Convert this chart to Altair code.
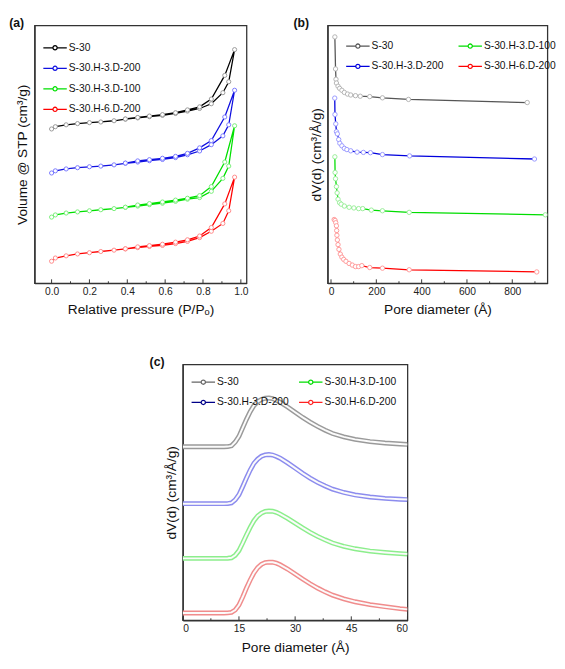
import altair as alt
import pandas as pd

FONT = "Liberation Sans"
SERIES = ["S-30", "S-30.H-3.D-200", "S-30.H-3.D-100", "S-30.H-6.D-200"]

# ---------------- (a) N2 sorption isotherms ----------------
a_ads_p = [0.0, 0.02, 0.077, 0.137, 0.2, 0.26, 0.33, 0.39, 0.455, 0.517, 0.586,
           0.655, 0.718, 0.782, 0.844, 0.905, 0.936, 0.967]
a_des_p = [0.915, 0.844, 0.782, 0.718, 0.655, 0.586, 0.517, 0.455, 0.39]

a_ads_s30 = [163.3, 165.7, 167.7, 169, 170, 170.7, 172, 173.7, 175, 176.3, 177.7,
             179.7, 182.3, 185, 190, 201.7, 213.3, 247.3]
a_des_s30 = [220, 195, 186.7, 183.5, 180.5, 178.5, 177, 175.5, 173.9]
a_ads_h3d200 = [116.7, 119, 121, 122.3, 123.3, 124, 125.3, 127, 128.3, 129.7, 131,
                133, 136, 140, 146.7, 156, 167.7, 204.3]
a_des_h3d200 = [176, 151, 143.3, 137.5, 134.3, 132.3, 130.8, 129.5, 127.2]
a_ads_h3d100 = [70, 72.3, 74.3, 75.5, 76.7, 77.8, 79, 80.3, 81.7, 83.2, 84.7,
                86.7, 89, 90.7, 97.3, 111, 124, 166.7]
a_des_h3d100 = [128.3, 102.3, 92.7, 90, 88, 86, 84.3, 82.8, 80.5]
a_ads_h6d200 = [23.3, 26.7, 29, 31, 32.3, 33.6, 35, 36.3, 37.7, 38.9, 40,
                42, 44.3, 48.3, 55, 63.3, 76.7, 112.3]
a_des_h6d200 = [84, 59, 50, 46, 43.5, 41.3, 39.8, 38.5, 36.5]

a_major = [0.0, 0.2, 0.4, 0.6, 0.8, 1.0]
a_minor = [0.1, 0.3, 0.5, 0.7, 0.9]

# ---------------- (b) BJH pore size distribution ----------------
b_x_s30 = [17, 20, 22, 24, 31, 38, 48, 59, 73, 87, 108, 129, 171, 227, 342, 866]
b_v_s30 = [261.7, 227.7, 216.7, 212.7, 209.3, 207, 205, 202.7, 201, 200, 199.3,
           198.7, 198.3, 197, 195.3, 192]
b_x_h3d200 = [16.5, 17.5, 21, 24, 28, 34, 39, 48, 59, 70, 87, 115, 143, 174, 227, 347, 898]
b_v_h3d200 = [196.7, 179.3, 169.3, 161, 158.7, 152.7, 148.7, 146, 143.3, 142, 140.7,
              139.3, 139, 138.7, 136.7, 135.3, 132]
b_x_h3d100 = [17, 18, 20, 24, 27, 31, 38, 45, 59, 80, 101, 122, 140, 178, 227, 345, 946]
b_v_h3d100 = [134.3, 117.7, 111, 102.7, 96, 89.3, 85.5, 84, 82, 80.7, 80, 79.3,
              79.3, 77.7, 77, 75.3, 72.7]
b_x_h6d200 = [14, 18, 21, 24, 25, 26, 28, 31, 35, 41, 48, 56, 66, 80, 94, 108, 122,
              136, 171, 227, 345, 908]
b_v_h6d200 = [67.7, 66.7, 64.3, 61, 56, 51, 46, 41, 36, 31, 27.7, 25.3, 23.3, 21,
              19.3, 17.7, 17.7, 18.7, 16.7, 16, 14.3, 12]

b_major = [0, 200, 400, 600, 800]
b_minor = [100, 300, 500, 700, 900]

# ---------------- (c) micropore distribution ----------------
c_x = [0, 4, 8, 11, 12, 13, 14, 15, 16, 17, 18, 19, 20, 21, 22, 23, 24, 25, 26,
       28, 30, 32, 34, 36, 38, 40, 43, 46, 50, 54, 58, 60]
c_v_s30 = [183, 183, 183, 183, 183.2, 184, 188, 194, 203, 212, 220, 226.5, 230.5,
           233, 234.2, 234.5, 233.8, 232, 230, 225, 219.5, 214, 209, 204.5, 200.5,
           197, 193.5, 190.8, 188.5, 187, 186, 185.5]
c_v_h3d200 = [123, 123, 123, 123, 123.1, 123.8, 127, 132.5, 141, 150, 158.5, 165.5,
              170, 173, 174.4, 174.8, 174.3, 172.8, 171, 166, 160.5, 155, 150,
              145.5, 141.7, 138.3, 134.8, 132.2, 130, 128.6, 127.7, 127.3]
c_v_h3d100 = [65.3, 65.3, 65.3, 65.3, 65.4, 65.9, 68.5, 73.5, 81.5, 90, 98, 105,
              110, 113, 114.8, 115.3, 115, 113.8, 112, 107.5, 102.5, 97.5, 92.8,
              88.5, 84.8, 81.5, 78, 75.4, 73, 71.5, 70.3, 69.8]
c_v_h6d200 = [7.7, 7.7, 7.7, 7.7, 7.8, 8.3, 10.8, 16, 24.5, 34, 42.5, 50, 55.5, 59,
              60.8, 61.3, 61.2, 60.2, 58.5, 54, 48.8, 43.5, 38.5, 34, 30, 26.5,
              22.5, 19.5, 16.5, 14.3, 12.3, 11.5]

c_major = [0, 15, 30, 45, 60]
c_minor = [7.5, 22.5, 37.5, 52.5]

# ---------------- colours ----------------
a_line_col = ["#000000", "#1010e0", "#00e000", "#ff0000"]
a_pt_col = ["#9a9a9a", "#7a7aff", "#7aee7a", "#ff8a8a"]
b_line_col = ["#555555", "#0000dd", "#00dd00", "#ff0000"]
b_pt_col = ["#b4b4b4", "#9a9aff", "#9aee9a", "#ff9a9a"]
c_band_col = ["#9a9a9a", "#8c8cee", "#8cee8c", "#f08c8c"]
c_leg_col = ["#666666", "#000088", "#00dd00", "#ff2222"]

FRAME_COL = "#333333"

# ---------------- tables ----------------
rows_a = []
for s, ads, des in zip(SERIES,
                       [a_ads_s30, a_ads_h3d200, a_ads_h3d100, a_ads_h6d200],
                       [a_des_s30, a_des_h3d200, a_des_h3d100, a_des_h6d200]):
    i = 0
    for p, v in zip(a_ads_p, ads):
        rows_a.append({"series": s, "p": p, "v": v, "i": i}); i += 1
    for p, v in zip(a_des_p, des):
        rows_a.append({"series": s, "p": p, "v": v, "i": i}); i += 1
df_a = pd.DataFrame(rows_a)

rows_b = []
for s, xs, vs in zip(SERIES, [b_x_s30, b_x_h3d200, b_x_h3d100, b_x_h6d200],
                     [b_v_s30, b_v_h3d200, b_v_h3d100, b_v_h6d200]):
    for i, (x, v) in enumerate(zip(xs, vs)):
        rows_b.append({"series": s, "d": x, "v": v, "i": i})
df_b = pd.DataFrame(rows_b)

rows_c = []
for s, vs in zip(SERIES, [c_v_s30, c_v_h3d200, c_v_h3d100, c_v_h6d200]):
    for x, v in zip(c_x, vs):
        rows_c.append({"series": s, "d": x, "v": v})
df_c = pd.DataFrame(rows_c)

SYM = ("M-1,0L-0.18,0M0.18,0L1,0M0.18,0A0.18,0.18,0,1,1,-0.18,0"
       "A0.18,0.18,0,1,1,0.18,0")

AX_STYLE = dict(grid=True, gridOpacity=0, labelFont=FONT, labelFontSize=10.5,
                labelColor="#222222", titleFont=FONT, titleFontSize=14,
                titleFontWeight="normal", titleColor="#111111", domain=True,
                domainColor=FRAME_COL, domainWidth=1.3)


def legend(x, y, cols, colpad):
    return alt.Legend(title=None, orient="none", legendX=x, legendY=y,
                      direction="vertical", columns=cols, columnPadding=colpad,
                      rowPadding=2, padding=0, symbolType=SYM, symbolSize=576,
                      symbolStrokeWidth=1.3, symbolOpacity=1, labelFont=FONT,
                      labelFontSize=10.5, labelColor="#111", labelOffset=1,
                      labelLimit=300)


def make_x(domain, values, fmt, title, tpad):
    def f(field):
        return alt.X(f"{field}:Q",
                     scale=alt.Scale(domain=domain, nice=False, zero=False),
                     axis=alt.Axis(values=values, format=fmt, title=title,
                                   tickOpacity=0, tickSize=3, labelPadding=1,
                                   titlePadding=tpad, **AX_STYLE))
    return f


def make_y(domain, title, tpad):
    def f(field):
        return alt.Y(f"{field}:Q",
                     scale=alt.Scale(domain=domain, nice=False, zero=False),
                     axis=alt.Axis(labels=False, ticks=False, title=title,
                                   titlePadding=tpad, **AX_STYLE))
    return f


def ticks(vals, H, L, xf):
    return alt.Chart(pd.DataFrame({"t": vals})).mark_rule(
        color=FRAME_COL, strokeWidth=1).encode(
        x=xf("t"), y=alt.value(H), y2=alt.value(H - L))


def ptitle(txt, dx):
    return alt.TitleParams(txt, anchor="start", frame="group", dx=dx, offset=-4,
                           fontSize=12.5, fontWeight="bold", font=FONT, color="#111")


VIEW = alt.ViewBackground(stroke=FRAME_COL, strokeWidth=1.3)

# ---------------- panel (a) ----------------
WA, HA = 217, 264
xa = make_x([-0.09, 1.03], a_major, ".1f", "Relative pressure (P/P\u2092)", 6)
ya = make_y([0, 273], "Volume @ STP (cm\u00b3/g)", 5)
a_line = alt.Chart(df_a).mark_line(strokeWidth=1.3, clip=True).encode(
    x=xa("p"), y=ya("v"),
    color=alt.Color("series:N", scale=alt.Scale(domain=SERIES, range=a_line_col),
                    legend=legend(8, 10, 1, 0)),
    order="i:Q")
a_pts = alt.Chart(df_a).mark_point(shape="circle", size=18, strokeWidth=1,
                                   fill="white", fillOpacity=1, clip=True).encode(
    x=xa("p"), y=ya("v"),
    stroke=alt.Stroke("series:N", scale=alt.Scale(domain=SERIES, range=a_pt_col),
                      legend=None))
panel_a = alt.layer(a_line, a_pts, ticks(a_major, HA, 4, xa), ticks(a_minor, HA, 2, xa)
                    ).properties(width=WA, height=HA, title=ptitle("(a)", -26), view=VIEW)

# ---------------- panel (b) ----------------
WB, HB = 225, 264
xb = make_x([-15, 955], b_major, "d", "Pore diameter (\u00c5)", 6)
yb = make_y([0, 274], "dV(d) (cm\u00b3/\u00c5/g)", 4)
b_line = alt.Chart(df_b).mark_line(strokeWidth=1.3, clip=True).encode(
    x=xb("d"), y=yb("v"),
    color=alt.Color("series:N", scale=alt.Scale(domain=SERIES, range=b_line_col),
                    legend=legend(18, 8, 2, 12)),
    order="i:Q")
b_pts = alt.Chart(df_b).mark_point(shape="circle", size=20, strokeWidth=1,
                                   fill="white", fillOpacity=1, clip=True).encode(
    x=xb("d"), y=yb("v"),
    stroke=alt.Stroke("series:N", scale=alt.Scale(domain=SERIES, range=b_pt_col),
                      legend=None))
panel_b = alt.layer(b_line, b_pts, ticks(b_major, HB, 4, xb), ticks(b_minor, HB, 2, xb)
                    ).properties(width=WB, height=HB, title=ptitle("(b)", -35), view=VIEW)

# ---------------- panel (c) ----------------
WC, HC = 230, 262
xc = make_x([0, 60], c_major, "d", "Pore diameter (\u00c5)", 6)
yc = make_y([0, 270], "dV(d) (cm\u00b3/\u00c5/g)", 4)
c_leg = alt.Chart(df_c).mark_line(strokeWidth=1, clip=True).encode(
    x=xc("d"), y=yc("v"),
    color=alt.Color("series:N", scale=alt.Scale(domain=SERIES, range=c_leg_col),
                    legend=legend(8, 5, 2, 7)))
c_band = alt.Chart(df_c).mark_line(strokeWidth=5, clip=True).encode(
    x=xc("d"), y=yc("v"),
    stroke=alt.Stroke("series:N", scale=alt.Scale(domain=SERIES, range=c_band_col),
                      legend=None))
c_inner = alt.Chart(df_c).mark_line(strokeWidth=2, color="#fbfbfb", clip=True).encode(
    x=xc("d"), y=yc("v"), detail="series:N")
panel_c = alt.layer(c_leg, c_band, c_inner, ticks(c_major, HC, 4, xc),
                    ticks(c_minor, HC, 2, xc)
                    ).properties(width=WC, height=HC, title=ptitle("(c)", -34), view=VIEW)

top = alt.hconcat(panel_a, panel_b, spacing=44).resolve_scale(
    color="independent", stroke="independent").resolve_legend(
    color="independent", stroke="independent")
chart = alt.vconcat(top, panel_c, spacing=37, center=True).resolve_scale(
    color="independent", stroke="independent").resolve_legend(
    color="independent", stroke="independent").properties(padding=0)
chart = chart.configure(font=FONT)

chart.save("out.html", embed_options={"renderer": "svg", "actions": False})
